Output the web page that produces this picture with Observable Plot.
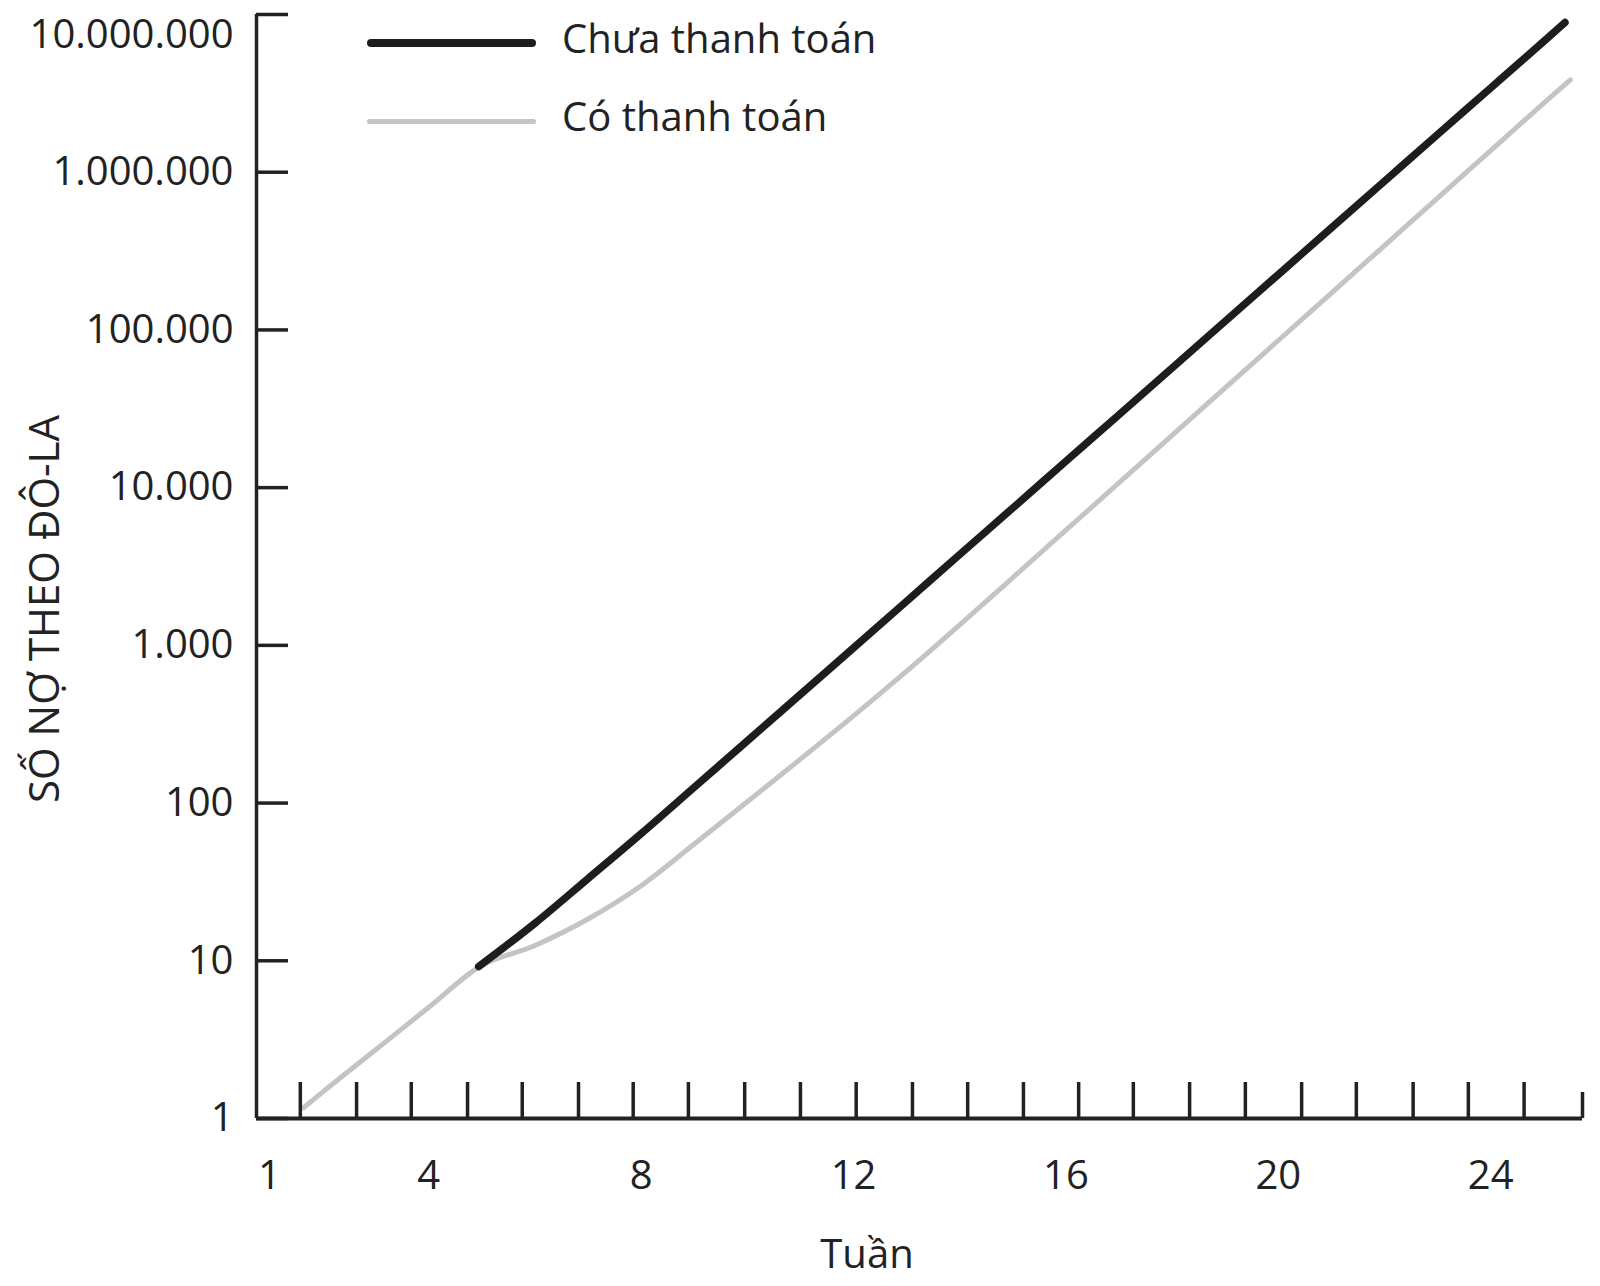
<!DOCTYPE html>
<html>
<head>
<meta charset="utf-8">
<script src="https://cdn.jsdelivr.net/npm/d3@7"></script>
<script src="https://cdn.jsdelivr.net/npm/@observablehq/plot@0.6"></script>
<style>
  body { margin: 0; background: #fff; }
  #wrap { position: relative; width: 1600px; height: 1286px; font-family: "Open Sans", sans-serif; color: #222; background: #fff; overflow: hidden; }
  #wrap svg { position: absolute; left: 0; top: 0; }
  .lg-line { position: absolute; border-radius: 4px; }
  .lg-text { position: absolute; font-size: 40px; line-height: 40px; white-space: nowrap; color: #222; }
  .ttl { position: absolute; white-space: nowrap; line-height: 1; color: #222; }
</style>
</head>
<body>
<div id="wrap"></div>
<script>
// ---- data ----
const seriesNames = ["Chưa thanh toán", "Có thanh toán"];
const unpaidWeeks = [4.94, 6, 7, 8, 9, 10, 11, 12, 13, 14, 15, 16, 17, 18, 19, 20, 21, 22, 23, 24, 25, 25.4];
const unpaidDebt  = [9.2, 17.3, 33.2, 64, 126, 248, 489, 964, 1905, 3770, 7430, 14700, 29000, 57400, 113500, 224400, 443600, 877000, 1734000, 3420000, 6760000, 8900000];
const paidWeeks = [1.64, 2, 3, 4, 4.94, 6, 7, 8, 9, 10, 11, 12, 13, 14, 15, 16, 17, 18, 19, 20, 21, 22, 23, 24, 25, 25.5];
const paidDebt  = [1.17, 1.47, 2.73, 5.07, 9.1, 12.5, 18.4, 29.9, 55, 102, 190, 357, 686, 1350, 2690, 5370, 10740, 21480, 42850, 85700, 171400, 342800, 685500, 1371000, 2742000, 3850000];
const xTickLabels = [1, 4, 8, 12, 16, 20, 24];
const yTickValues = [1, 10, 100, 1000, 10000, 100000, 1000000, 10000000];
const xTickMarks = [1.58, 2.64, 3.67, 4.73, 5.76, 6.82, 7.85, 8.89, 9.95, 11.0, 12.05, 13.11, 14.15, 15.2, 16.24, 17.27, 18.33, 19.38, 20.44, 21.47, 22.54, 23.58, 24.63];
const xDomain = [0.755, 25.73];
const yDomain = [1, 10000000];
const xTitle = "Tuần";
const yTitle = "SỐ NỢ THEO ĐÔ-LA";

// ---- build tables ----
const unpaid = unpaidWeeks.map((w, i) => ({week: w, debt: unpaidDebt[i], series: seriesNames[0]}));
const paid = paidWeeks.map((w, i) => ({week: w, debt: paidDebt[i], series: seriesNames[1]}));
const viFmt = d3.formatLocale({decimal: ",", thousands: ".", grouping: [3], currency: ["", ""]}).format(",");

const W = 1600, H = 1286, mL = 256, mR = 18, mT = 14, mB = 168;
const frameW = W - mL - mR, frameH = H - mT - mB;
const ink = "#222";
const blackInk = "#1d1d1d", grayInk = "#c4c4c4";

const lowerTicks = yTickValues.slice(0, -1);
const topTick = yTickValues.slice(-1);

const chart = Plot.plot({
  width: W, height: H,
  marginLeft: mL, marginRight: mR, marginTop: mT, marginBottom: mB,
  x: {domain: xDomain},
  y: {type: "log", domain: yDomain},
  style: {fontFamily: "'Open Sans', sans-serif", fontSize: "40px", color: ink, background: "white", overflow: "visible"},
  marks: [
    Plot.axisY({ticks: lowerTicks, tickSize: 0, tickPadding: 23, tickFormat: viFmt, fontSize: 40, label: null}),
    Plot.axisY({ticks: topTick, tickSize: 0, tickPadding: 23, tickFormat: viFmt, fontSize: 40, label: null, dy: 21}),
    Plot.axisX({ticks: xTickLabels, tickSize: 0, tickPadding: 42, tickFormat: d => String(d), fontSize: 40, label: null}),
    Plot.line(paid, {x: "week", y: "debt", stroke: grayInk, strokeWidth: 5, curve: "monotone-x", strokeLinecap: "round"}),
    Plot.line(unpaid, {x: "week", y: "debt", stroke: blackInk, strokeWidth: 7.5, curve: "monotone-x", strokeLinecap: "round"}),
    Plot.ruleX([xDomain[0]], {y1: yDomain[0], y2: yDomain[1], stroke: ink, strokeWidth: 3.5}),
    Plot.ruleY([yDomain[0]], {x1: xDomain[0], x2: xDomain[1], stroke: ink, strokeWidth: 4}),
    Plot.tickY(yTickValues, {y: d => d, stroke: ink, strokeWidth: 3.5, insetRight: frameW - 32}),
    Plot.tickX(xTickMarks, {x: d => d, stroke: ink, strokeWidth: 3.5, insetTop: frameH - 36}),
    Plot.tickX([xDomain[1]], {x: d => d, stroke: ink, strokeWidth: 3.5, insetTop: frameH - 26})
  ]
});

const wrap = document.getElementById("wrap");
wrap.appendChild(chart);

// legend
const legend = [
  {name: seriesNames[0], color: blackInk, lineTop: 39, thick: 8, textTop: 18},
  {name: seriesNames[1], color: grayInk, lineTop: 119, thick: 5, textTop: 96}
];
legend.forEach(l => {
  const ln = document.createElement("div");
  ln.className = "lg-line";
  ln.style.left = "367px"; ln.style.width = "169px"; ln.style.top = l.lineTop + "px";
  ln.style.height = l.thick + "px";
  ln.style.background = l.color;
  wrap.appendChild(ln);
  const tx = document.createElement("div");
  tx.className = "lg-text";
  tx.style.left = "562px"; tx.style.top = l.textTop + "px";
  tx.textContent = l.name;
  wrap.appendChild(tx);
});

// axis titles
const yt = document.createElement("div");
yt.className = "ttl";
yt.style.fontSize = "42px";
yt.style.left = "43px"; yt.style.top = "609px";
yt.style.transform = "translate(-50%, -50%) rotate(-90deg)";
yt.textContent = yTitle;
wrap.appendChild(yt);

const xt = document.createElement("div");
xt.className = "ttl";
xt.style.fontSize = "40px";
xt.style.left = "867px"; xt.style.top = "1253px";
xt.style.transform = "translate(-50%, -50%)";
xt.textContent = xTitle;
wrap.appendChild(xt);
</script>
</body>
</html>
